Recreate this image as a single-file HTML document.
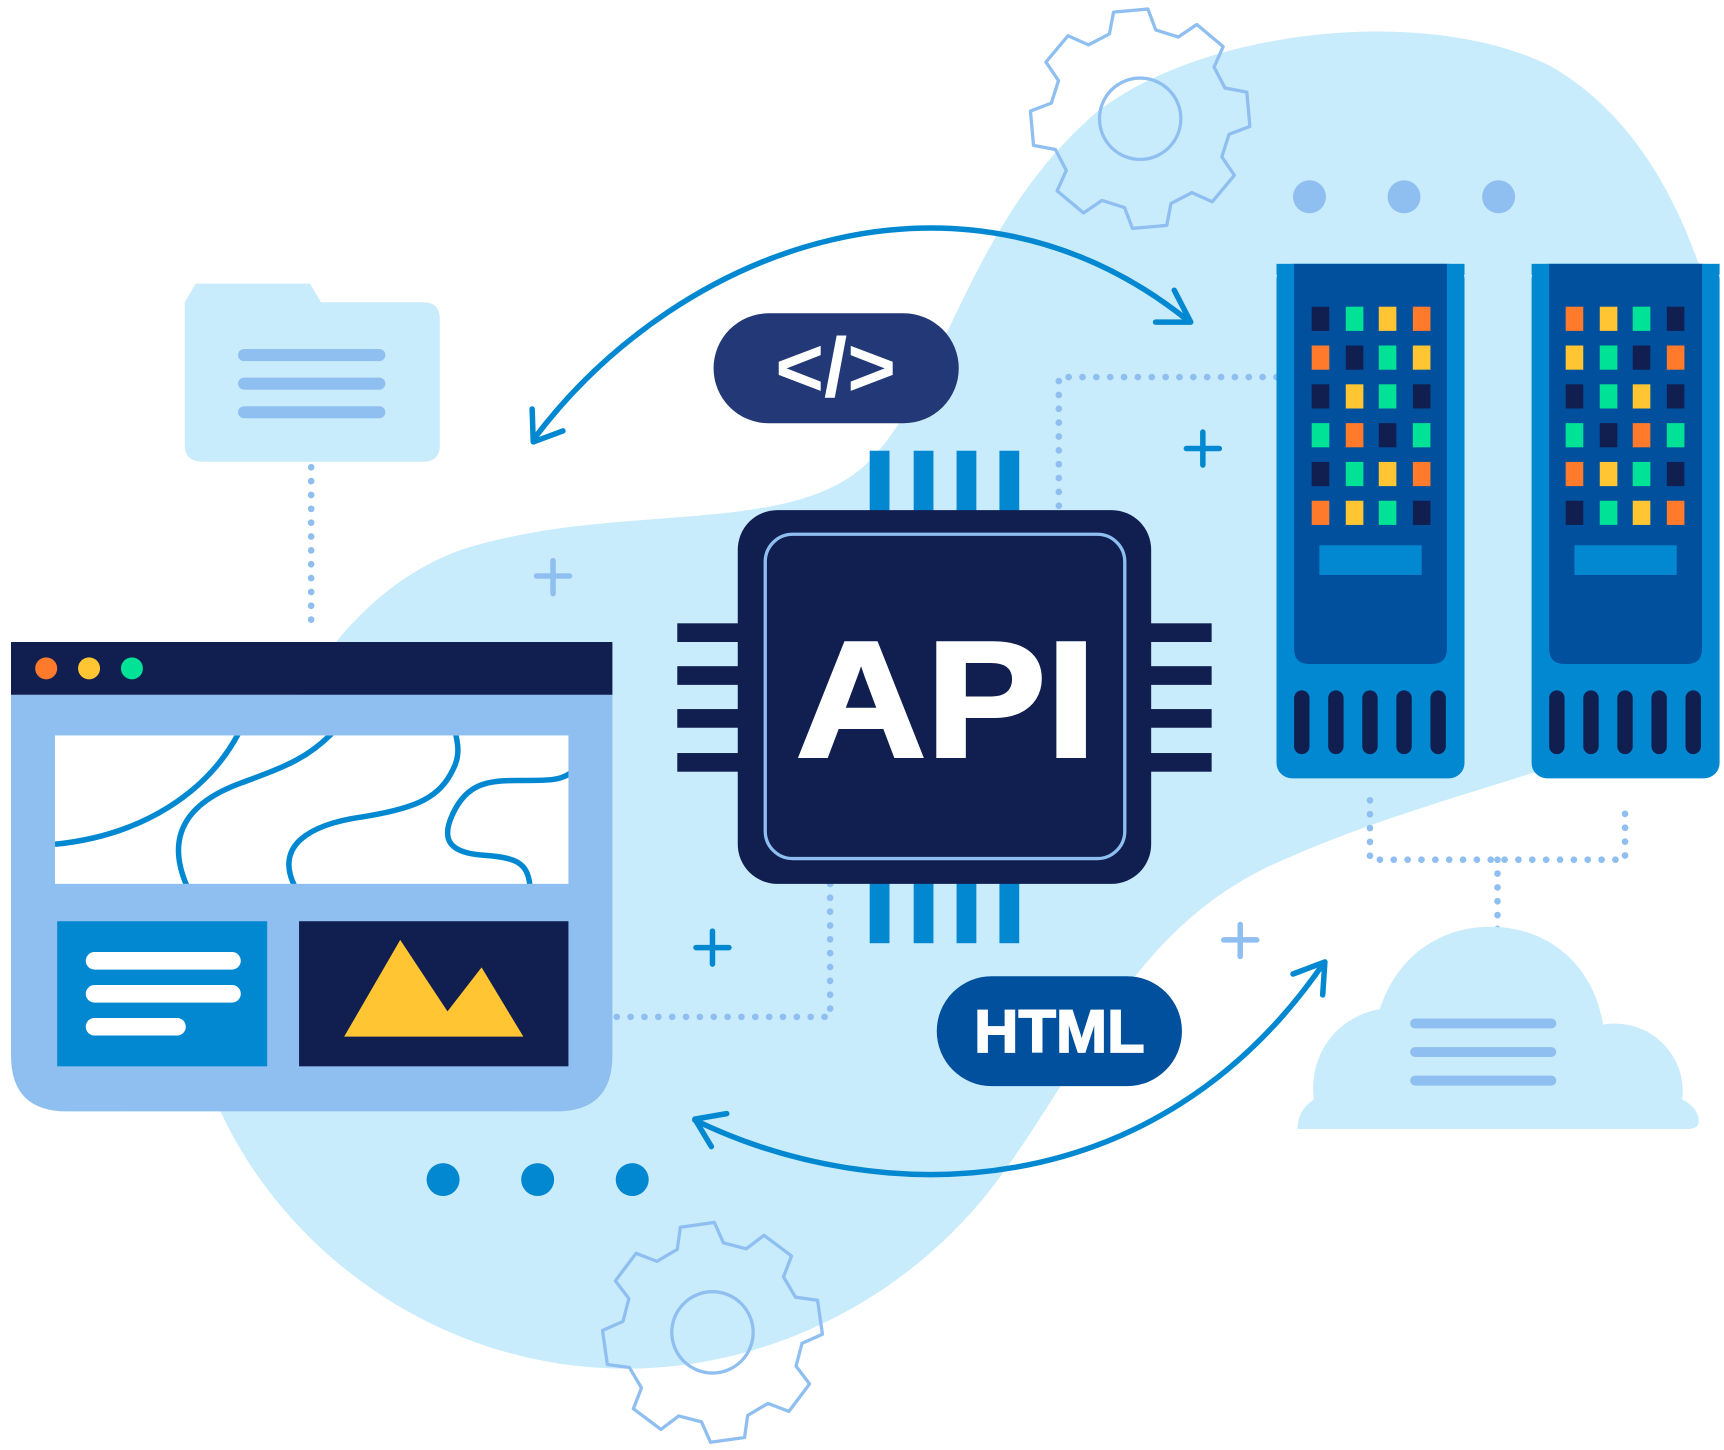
<!DOCTYPE html>
<html><head><meta charset="utf-8"><style>html,body{margin:0;padding:0;background:#fff}svg{display:block}</style></head>
<body>
<svg id="s" width="1724" height="1450" viewBox="0 0 1568 1319" preserveAspectRatio="none" xmlns="http://www.w3.org/2000/svg">
<path d="M200 1010 C175 820 250 560 420 500 C560 455 720 490 790 420 C860 350 880 200 1000 100 C1100 25 1300 5 1410 60 C1480 100 1520 170 1545 240 L1545 640 C1450 700 1300 720 1150 790 C1030 850 990 960 910 1070 C830 1180 700 1245 570 1245 C400 1245 260 1140 200 1010 Z" fill="#C9ECFC"/>
<g id="gears" fill="none" stroke="#8FBFF0" stroke-width="3" stroke-linejoin="round">
<circle cx="1037" cy="108" r="37"/>
<circle cx="648" cy="1212" r="37"/>
</g>
<g fill="#8FBFF0"><circle cx="1191" cy="179" r="15"/><circle cx="1277" cy="179" r="15"/><circle cx="1363" cy="179" r="15"/></g>
<g fill="#0288D1"><circle cx="403" cy="1073" r="15"/><circle cx="489" cy="1073" r="15"/><circle cx="575" cy="1073" r="15"/></g>
<g fill="none" stroke="#8FBFF0" stroke-width="6" stroke-linecap="round" stroke-dasharray="0.1 12.5">
<path d="M283 425 V575"/><path d="M1161 343 H963 V465"/><path d="M755 804 V925 H557"/>
<path d="M1246 728 V782 H1478 V728"/><path d="M1362 782 V858"/>
</g>
<path d="M168 275 L178 258 H282 L292 275 H385 Q400 275 400 290 V405 Q400 420 385 420 H185 Q168 420 168 405 Z" fill="#C9ECFC"/>
<g stroke="#8FBFF0" stroke-width="11" stroke-linecap="round"><path d="M222 323H345M222 349H345M222 375H345"/></g>
<path d="M1180 1027 Q1180 1010 1195 1000 C1190 960 1215 925 1255 918 C1270 870 1310 843 1355 843 C1410 843 1450 880 1458 932 C1500 925 1535 960 1530 1000 Q1545 1008 1545 1020 Q1545 1027 1535 1027 Z" fill="#C9ECFC"/>
<g stroke="#8FBFF0" stroke-width="9" stroke-linecap="round"><path d="M1287 931H1411M1287 957H1411M1287 983H1411"/></g>
<path d="M10 632 H557 V960 Q557 1011 506 1011 H61 Q10 1011 10 960 Z" fill="#8FBFF0"/>
<rect x="10" y="584" width="547" height="48" fill="#101F50"/>
<circle cx="42" cy="608" r="10" fill="#FF7A2A"/><circle cx="81" cy="608" r="10" fill="#FFC533"/><circle cx="120" cy="608" r="10" fill="#00E396"/>
<clipPath id="c1"><rect x="50" y="669" width="467" height="135"/></clipPath>
<rect x="50" y="669" width="467" height="135" fill="#fff"/>
<g clip-path="url(#c1)" fill="none" stroke="#0288D1" stroke-width="5">
<path d="M50 768 C130 760 190 720 218 665"/>
<path d="M170 806 C150 760 170 730 220 712 C260 697 280 690 304 665"/>
<path d="M268 806 C250 770 280 750 330 743 C380 735 400 725 412 700 C420 685 415 672 414 665"/>
<path d="M482 806 C480 785 470 780 440 778 C410 776 400 765 412 740 C425 712 445 710 470 710 C500 710 510 710 519 703"/>
</g>
<rect x="52" y="838" width="191" height="132" fill="#0288D1"/>
<g stroke="#fff" stroke-width="16" stroke-linecap="round"><path d="M86 874H211M86 904H211M86 934H161"/></g>
<rect x="272" y="838" width="245" height="132" fill="#101F50"/>
<path d="M313 943 L364 855 L407 920 L438 880 L476 943 Z" fill="#FFC533"/>
<g fill="none" stroke="#0288D1" stroke-width="5" stroke-linecap="round" stroke-linejoin="round">
<path d="M485 400 C620 220 880 130 1081 292"/>
<path d="M484 372 L485 402 L512 392"/>
<path d="M1068 264 L1083 293 L1051 293"/>
<path d="M632 1019 C800 1100 1050 1100 1204 876"/>
<path d="M661 1013 L632 1018 L647 1043"/>
<path d="M1176 886 L1205 875 L1203 905"/>
</g>
<g stroke-width="5" stroke-linecap="round"><path d="M503 510V540M488 524H518M1128 841V870M1113 855H1143" stroke="#8FBFF0"/>
<path d="M1094 393V423M1079 408H1109M648 847V877M633 862H663" stroke="#0288D1"/></g>
<g fill="#0288D1"><rect x="791" y="410" width="18" height="60"/><rect x="831" y="410" width="18" height="60"/><rect x="870" y="410" width="18" height="60"/><rect x="909" y="410" width="18" height="60"/>
<rect x="791" y="798" width="18" height="60"/><rect x="831" y="798" width="18" height="60"/><rect x="870" y="798" width="18" height="60"/><rect x="909" y="798" width="18" height="60"/></g>
<g fill="#101F50"><rect x="616" y="567" width="60" height="17"/><rect x="616" y="606" width="60" height="17"/><rect x="616" y="645" width="60" height="17"/><rect x="616" y="685" width="60" height="17"/>
<rect x="1042" y="567" width="60" height="17"/><rect x="1042" y="606" width="60" height="17"/><rect x="1042" y="645" width="60" height="17"/><rect x="1042" y="685" width="60" height="17"/></g>
<rect x="671" y="464" width="376" height="340" rx="36" fill="#101F50"/>
<rect x="696" y="486" width="327" height="295" rx="25" fill="none" stroke="#8FBFF0" stroke-width="3"/>
<text x="724" y="688" textLength="273" lengthAdjust="spacingAndGlyphs" font-family="Liberation Sans, sans-serif" font-weight="bold" font-size="150" fill="#fff" stroke="#fff" stroke-width="3">API</text>
<rect x="649" y="285" width="223" height="100" rx="50" fill="#233876"/>
<text x="760" y="360" text-anchor="middle" font-family="Liberation Sans, sans-serif" font-weight="bold" font-size="76" fill="#fff">&lt;/&gt;</text>
<rect x="852" y="888" width="223" height="100" rx="50" fill="#01509E"/>
<text x="886" y="957" textLength="155" lengthAdjust="spacingAndGlyphs" font-family="Liberation Sans, sans-serif" font-weight="bold" font-size="55" fill="#fff" stroke="#fff" stroke-width="1.5">HTML</text>
<g id="servers"></g>
</svg>
<script>
var ns="http://www.w3.org/2000/svg";
function el(p,t,a){var e=document.createElementNS(ns,t);for(var k in a)e.setAttribute(k,a[k]);p.appendChild(e);return e;}
var g=document.getElementById('gears');
function gear(cx,cy,rot){var R=100,r=82,n=8,st=360/n,pts=[];for(var k=0;k<n;k++){var t=(k*st+rot);[[-15,r],[-9,R],[9,R],[15,r]].forEach(function(p){var a=(t+p[0])*Math.PI/180;pts.push((cx+p[1]*Math.cos(a)).toFixed(1)+','+(cy+p[1]*Math.sin(a)).toFixed(1));});}
el(g,'polygon',{points:pts.join(' ')});}
gear(1037,108,-5);gear(648,1212,-8);
var C={n:'#101F50',g:'#00E396',y:'#FFC533',o:'#FF7A2A'};
var L=[["ngyo","ongy","nygn","gong","ngyo","oygn"],["oygn","ygno","ngyn","gnog","oygn","ngyo"]];
var sv=document.getElementById('servers');
[[1161,[1201,1232,1262,1293]],[1393,[1432,1463,1493,1524]]].forEach(function(s,i){var x=s[0];
el(sv,'rect',{x:x,y:240,width:171,height:468,rx:14,fill:'#0288D1'});
el(sv,'rect',{x:x,y:240,width:171,height:10,fill:'#0288D1'});
el(sv,'path',{d:'M'+(x+16)+' 240 H'+(x+155)+' V590 Q'+(x+155)+' 604 '+(x+141)+' 604 H'+(x+30)+' Q'+(x+16)+' 604 '+(x+16)+' 590 Z',fill:'#01509E'});
for(var r=0;r<6;r++)for(var c=0;c<4;c++){el(sv,'rect',{x:s[1][c]-8,y:279+r*35.3,width:16,height:22,fill:C[L[i][r][c]]});}
el(sv,'rect',{x:x+39,y:496,width:93,height:27,fill:'#0288D1'});
for(var j=0;j<5;j++)el(sv,'rect',{x:x+16+j*31,y:628,width:14,height:58,rx:7,fill:'#101F50'});
});
</script>
</body></html>
